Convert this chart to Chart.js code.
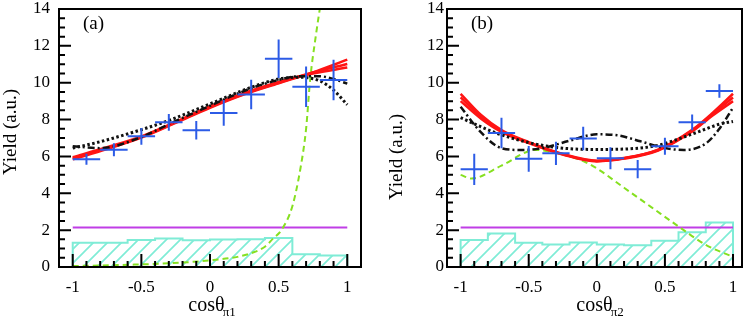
<!DOCTYPE html>
<html>
<head>
<meta charset="utf-8">
<script src="https://cdn.jsdelivr.net/npm/chart.js@4.4.1/dist/chart.umd.min.js"></script>
<style>
  body { margin: 0; background: #fff; }
  .panel { position: absolute; top: 0; width: 374px; height: 322px; }
</style>
</head>
<body>
<div class="panel" style="left:0"><canvas id="chartA" width="374" height="322"></canvas></div>
<div class="panel" style="left:374px"><canvas id="chartB" width="374" height="322"></canvas></div>
<script>
// bins of cos(theta), width 0.2
const binCenters = [-0.9, -0.7, -0.5, -0.3, -0.1, 0.1, 0.3, 0.5, 0.7, 0.9];
const binEdges = [-1, -0.8, -0.6, -0.4, -0.2, 0, 0.2, 0.4, 0.6, 0.8];
const binHalf = 0.1;
const xTicks = [-1, -0.5, 0, 0.5, 1];
const yTicks = [0, 2, 4, 6, 8, 10, 12, 14];

// panel (a)
const dataA = [5.85, 6.36, 7.09, 7.85, 7.42, 8.36, 9.36, 11.3, 9.78, 10.15];
const errA = [0.3, 0.35, 0.45, 0.45, 0.5, 0.7, 0.8, 1.05, 1.1, 1.1];
const bkgA = [1.31, 1.31, 1.46, 1.55, 1.45, 1.49, 1.5, 1.58, 0.69, 0.62];
const flatA = 2.15;
const fitXA = [-1, -0.75, -0.5, -0.25, 0, 0.25, 0.5, 0.75, 1];
const fitA1 = [5.84, 6.4, 7.02, 7.82, 8.64, 9.37, 9.97, 10.56, 11.25];
const fitA2 = [5.9, 6.45, 7.05, 7.85, 8.68, 9.4, 10.0, 10.55, 11.02];
const fitA3 = [5.96, 6.5, 7.09, 7.88, 8.71, 9.44, 10.04, 10.5, 10.82];
const altXA = [-1, -0.8, -0.5, -0.3, 0, 0.3, 0.5, 0.65, 0.8, 0.9, 1];
const dashDotA = [6.55, 6.45, 7.05, 7.75, 8.75, 9.7, 10.15, 10.35, 10.35, 10.2, 9.95];
const dottedA = [6.45, 6.8, 7.45, 7.95, 8.85, 9.75, 10.2, 10.3, 10.1, 9.6, 8.8];
const greenXA = [-1, -0.6, -0.3, 0, 0.2, 0.3, 0.4, 0.46, 0.52, 0.6, 0.66, 0.7, 0.73, 0.77, 0.81];
const greenA = [0.05, 0.12, 0.2, 0.36, 0.55, 0.75, 1.1, 1.55, 2.0, 3.3, 5.4, 7.5, 10.2, 12.5, 14.5];

// panel (b)
const dataB = [5.3, 7.27, 5.87, 6.17, 6.97, 5.9, 5.31, 6.55, 7.85, 9.55];
const errB = [0.85, 0.83, 0.7, 0.63, 0.64, 0.6, 0.5, 0.46, 0.43, 0.36];
const bkgB = [1.47, 1.82, 1.31, 1.22, 1.33, 1.22, 1.18, 1.42, 1.88, 2.42];
const flatB = 2.15;
const fitXB = [-1, -0.85, -0.7, -0.5, -0.25, 0, 0.2, 0.45, 0.7, 0.85, 1];
const fitB1 = [9.4, 8.25, 7.43, 6.78, 6.14, 5.77, 5.91, 6.37, 7.44, 8.36, 9.4];
const fitB2 = [9.2, 8.15, 7.38, 6.75, 6.12, 5.75, 5.9, 6.35, 7.4, 8.3, 9.2];
const fitB3 = [9.0, 8.05, 7.33, 6.72, 6.1, 5.73, 5.88, 6.32, 7.35, 8.22, 9.0];
const dashDotXB = [-1, -0.85, -0.7, -0.55, -0.4, -0.2, 0, 0.15, 0.32, 0.5, 0.64, 0.8, 0.9, 1];
const dashDotB = [8.7, 7.3, 6.45, 6.35, 6.45, 6.85, 7.2, 7.15, 6.82, 6.45, 6.35, 6.7, 7.5, 8.65];
const dottedXB = [-1, -0.75, -0.5, -0.25, 0, 0.2, 0.45, 0.6, 0.75, 0.9, 1];
const dottedB = [8.1, 7.3, 6.75, 6.45, 6.38, 6.4, 6.6, 6.95, 7.35, 7.75, 7.9];
const greenXB = [-1, -0.92, -0.7, -0.45, -0.25, -0.1, 0, 0.2, 0.4, 0.6, 0.8, 1];
const greenB = [5.0, 4.8, 5.5, 6.35, 6.1, 5.75, 5.35, 4.3, 3.25, 2.2, 1.2, 0.55];

const FONT = '"Liberation Serif", "Times New Roman", serif';
const BLUE = '#2c5be6', RED = '#ff1414', GREEN = '#86e020', VIOLET = '#c03ee6', AQUA = '#7fecd6';

function pts(xs, ys) { return xs.map((x, i) => ({x: x, y: ys[i]})); }

// error crosses: horizontal bar = bin width, vertical bar = +-err, split by null gaps
function crosses(ys, es) {
  let out = [];
  binCenters.forEach((c, i) => {
    out.push({x: c - binHalf, y: ys[i]}, {x: c + binHalf, y: ys[i]}, {x: c, y: null});
    out.push({x: c, y: ys[i] - es[i]}, {x: c, y: ys[i] + es[i]}, {x: c, y: null});
  });
  return out;
}

function histo(h) {
  let out = [{x: -1, y: 0}];
  binEdges.forEach((e, i) => out.push({x: e, y: h[i]}));
  out.push({x: 1, y: h[h.length - 1]}, {x: 1, y: 0});
  return out;
}

function hatch() {
  const s = 14, c = document.createElement('canvas');
  c.width = s; c.height = s;
  const g = c.getContext('2d');
  g.strokeStyle = AQUA; g.lineWidth = 1.7;
  g.beginPath();
  g.moveTo(0, s); g.lineTo(s, 0);
  g.moveTo(-2, 2); g.lineTo(2, -2);
  g.moveTo(s - 2, s + 2); g.lineTo(s + 2, s - 2);
  g.stroke();
  return g.createPattern(c, 'repeat');
}

function line(data, color, width, dash, tension) {
  return {data: data, borderColor: color, borderWidth: width, borderDash: dash || [],
    pointRadius: 0, fill: false, tension: tension || 0, cubicInterpolationMode: 'monotone'};
}

// frame, inward ticks, panel label and axis titles
const decor = {
  id: 'decor',
  afterDraw(chart, args, o) {
    const ctx = chart.ctx, a = chart.chartArea, x = chart.scales.x, y = chart.scales.y;
    ctx.save();
    ctx.strokeStyle = '#000';
    ctx.lineWidth = 2;
    ctx.beginPath();
    for (let k = 0; k <= 28; k++) {
      const p = y.getPixelForValue(k / 2);
      ctx.moveTo(a.left, p); ctx.lineTo(a.left + (k % 4 === 0 ? 12 : 6), p);
    }
    for (let k = -10; k <= 10; k++) {
      const p = x.getPixelForValue(k / 10);
      ctx.moveTo(p, a.bottom); ctx.lineTo(p, a.bottom - (k % 5 === 0 ? 13 : 6));
    }
    ctx.stroke();
    ctx.strokeRect(a.left, a.top, a.right - a.left, a.bottom - a.top);

    ctx.fillStyle = '#000';
    ctx.textBaseline = 'alphabetic';
    ctx.textAlign = 'left';
    ctx.font = '19px ' + FONT;
    ctx.fillText(o.label, o.labelX, 29);

    const w1 = ctx.measureText(o.xTitle).width;
    ctx.font = '13px ' + FONT;
    const w2 = ctx.measureText(o.xSub).width;
    const x0 = o.xTitleX - (w1 + w2) / 2;
    ctx.font = '20px ' + FONT;
    ctx.fillText(o.xTitle, x0, 311);
    ctx.font = '13px ' + FONT;
    ctx.fillText(o.xSub, x0 + w1, 316);

    ctx.translate(o.yTitleX, o.yTitleY);
    ctx.rotate(-Math.PI / 2);
    ctx.textAlign = 'center';
    ctx.textBaseline = 'middle';
    ctx.font = '19px ' + FONT;
    ctx.fillText(o.yTitle, 0, 0);
    ctx.restore();
  }
};

function makeChart(id, p) {
  return new Chart(document.getElementById(id), {
    type: 'line',
    data: {
      datasets: [
        line(crosses(p.data, p.err), BLUE, 2),
        line(pts(p.dottedX, p.dotted), '#111', 3, [2.5, 2.5], 0.4),
        line(pts(p.dashDotX, p.dashDot), '#111', 2.5, [7, 3, 2, 3], 0.4),
        line(pts(p.fitX, p.fit1), RED, 2.5, null, 0.4),
        line(pts(p.fitX, p.fit2), RED, 2.5, null, 0.4),
        line(pts(p.fitX, p.fit3), RED, 2.5, null, 0.4),
        line(pts(p.greenX, p.green), GREEN, 2, [6, 4], 0.4),
        line([{x: -1, y: p.flat}, {x: 1, y: p.flat}], VIOLET, 2),
        {data: histo(p.bkg), borderColor: AQUA, borderWidth: 2, stepped: 'before',
          pointRadius: 0, fill: 'origin', backgroundColor: hatch()}
      ]
    },
    options: {
      responsive: false,
      animation: false,
      devicePixelRatio: 1,
      spanGaps: false,
      layout: {padding: {top: 9, right: p.padRight, left: 0, bottom: 0}},
      plugins: {legend: {display: false}, tooltip: {enabled: false}, decor: p.decor},
      scales: {
        x: {
          type: 'linear', min: -1.1, max: p.xMax,
          grid: {display: false, drawTicks: false}, border: {display: false},
          afterBuildTicks: s => { s.ticks = xTicks.map(v => ({value: v})); },
          afterFit: s => { s.height = 55; },
          ticks: {padding: 10, color: '#000', font: {family: FONT, size: 17}, maxRotation: 0,
            callback: v => String(v)}
        },
        y: {
          type: 'linear', min: 0, max: 14,
          grid: {display: false, drawTicks: false}, border: {display: false},
          afterBuildTicks: s => { s.ticks = yTicks.map(v => ({value: v})); },
          afterFit: s => { s.width = p.yWidth; s.paddingTop = 0; s.paddingBottom = 0; },
          ticks: {padding: p.yPad, color: '#000', font: {family: FONT, size: 17},
            callback: v => String(v)}
        }
      }
    },
    plugins: [decor]
  });
}

makeChart('chartA', {
  data: dataA, err: errA, bkg: bkgA, flat: flatA,
  fitX: fitXA, fit1: fitA1, fit2: fitA2, fit3: fitA3,
  dashDotX: altXA, dashDot: dashDotA, dottedX: altXA, dotted: dottedA,
  greenX: greenXA, green: greenA,
  xMax: 1.1, padRight: 13, yWidth: 59, yPad: 9,
  decor: {label: '(a)', labelX: 83, xTitle: 'cosθ', xSub: 'π1', xTitleX: 212,
    yTitle: 'Yield (a.u.)', yTitleX: 11, yTitleY: 132}
});

makeChart('chartB', {
  data: dataB, err: errB, bkg: bkgB, flat: flatB,
  fitX: fitXB, fit1: fitB1, fit2: fitB2, fit3: fitB3,
  dashDotX: dashDotXB, dashDot: dashDotB, dottedX: dottedXB, dotted: dottedB,
  greenX: greenXB, green: greenB,
  xMax: 1.066, padRight: 6, yWidth: 73, yPad: 3,
  decor: {label: '(b)', labelX: 97, xTitle: 'cosθ', xSub: 'π2', xTitleX: 226,
    yTitle: 'Yield (a.u.)', yTitleX: 23, yTitleY: 157}
});
</script>
</body>
</html>
